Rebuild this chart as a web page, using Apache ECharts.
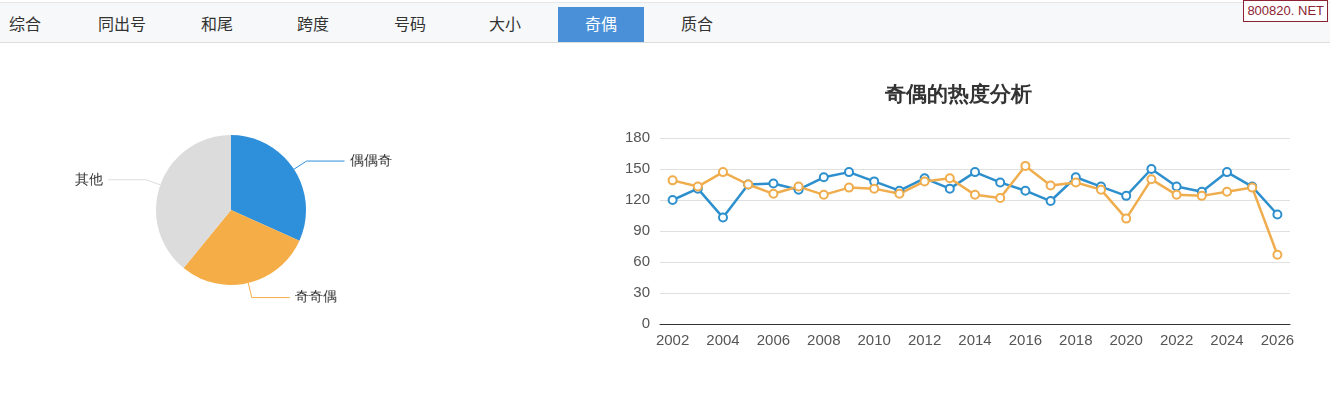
<!DOCTYPE html>
<html><head><meta charset="utf-8">
<script src="https://cdn.jsdelivr.net/npm/echarts@6/dist/echarts.min.js"></script>
<style>
html,body{margin:0;padding:0;background:#fff;width:1330px;height:420px;overflow:hidden;font-family:"Microsoft YaHei","Noto Sans CJK SC",sans-serif;}
#tabs{position:absolute;left:0;top:2px;width:1330px;height:39px;background:#f7f8f9;border-top:1px solid #e6e6e6;border-bottom:1px solid #dcdcdc;z-index:2;}
.tab{position:absolute;top:4px;height:35px;line-height:32px;font-size:16px;color:#333;text-align:center;}
.tab.active{background:#4a90d9;color:#fff;}
#logo{position:absolute;right:2px;top:0px;height:20px;line-height:20px;padding:0 3px;border:1px solid #8b2332;color:#8b2332;font-size:13px;background:#fff;font-family:"Liberation Sans",sans-serif;z-index:3;}
#chart{position:absolute;left:0;top:0;width:1330px;height:420px;}
</style></head>
<body>
<div id="chart"></div>
<div id="tabs"></div>
<div id="logo">800820. NET</div>
<script>
const tabNames = ['综合','同出号','和尾','跨度','号码','大小','奇偶','质合'];
const tabCenters = [25,122,217,313,410,505,601,697];
const activeTab = '奇偶';

const pieNames = ['偶偶奇','奇奇偶','其他'];
const pieValues = [31.7, 29.2, 39.1];
const pieColors = ['#2e8fdb','#f5ad47','#dcdcdc'];

const years = ['2002','2003','2004','2005','2006','2007','2008','2009','2010','2011','2012','2013','2014','2015','2016','2017','2018','2019','2020','2021','2022','2023','2024','2025','2026'];
const blueValues = [120,131,103,135,136,130,142,147,138,129,141,131,147,137,129,119,142,133,124,150,133,128,147,133,106];
const orangeValues = [139,133,147,135,126,133,125,132,131,126,138,141,125,122,153,134,137,130,102,140,125,124,128,132,67];
const yTicks = [0,30,60,90,120,150,180];

const tabsEl = document.getElementById('tabs');
tabNames.forEach((n,i)=>{
  const d = document.createElement('div');
  d.className = 'tab' + (n===activeTab?' active':'');
  d.textContent = n;
  const w = n===activeTab ? 86 : 80;
  d.style.left = (tabCenters[i]-w/2)+'px';
  d.style.width = w+'px';
  tabsEl.appendChild(d);
});

const chart = echarts.init(document.getElementById('chart'));
chart.setOption({
  animation:false,
  title:{text:'奇偶的热度分析', left:953, textAlign:'center', top:80, textStyle:{fontSize:21,fontWeight:'bold',color:'#333'}},
  grid:{left:660,right:40,top:138,bottom:96},
  xAxis:{type:'category',data:years,boundaryGap:true,
    axisLine:{lineStyle:{color:'#333'}},axisTick:{show:false},
    axisLabel:{interval:1,color:'#555',fontSize:15,margin:9}},
  yAxis:{type:'value',min:yTicks[0],max:yTicks[yTicks.length-1],interval:30,
    axisLine:{show:false},axisTick:{show:false},
    axisLabel:{color:'#555',fontSize:15,margin:10},
    splitLine:{lineStyle:{color:'#e0e0e0'}}},
  series:[
    {type:'pie',center:[231,210],radius:75,startAngle:90,clockwise:true,
     data:pieNames.map((n,i)=>({name:n,value:pieValues[i],itemStyle:{color:pieColors[i]}})),
     label:{color:'#333',fontSize:14},
     labelLine:{length:15,length2:38,lineStyle:{width:1}},
     emphasis:{disabled:true}},
    {type:'line',data:blueValues,symbol:'emptyCircle',symbolSize:8,
     lineStyle:{color:'#2e8fcd',width:2.5},itemStyle:{color:'#2e8fcd',borderWidth:2}},
    {type:'line',data:orangeValues,symbol:'emptyCircle',symbolSize:8,
     lineStyle:{color:'#f0ad4e',width:2.5},itemStyle:{color:'#f0ad4e',borderWidth:2}}
  ]
});
</script>
</body></html>
